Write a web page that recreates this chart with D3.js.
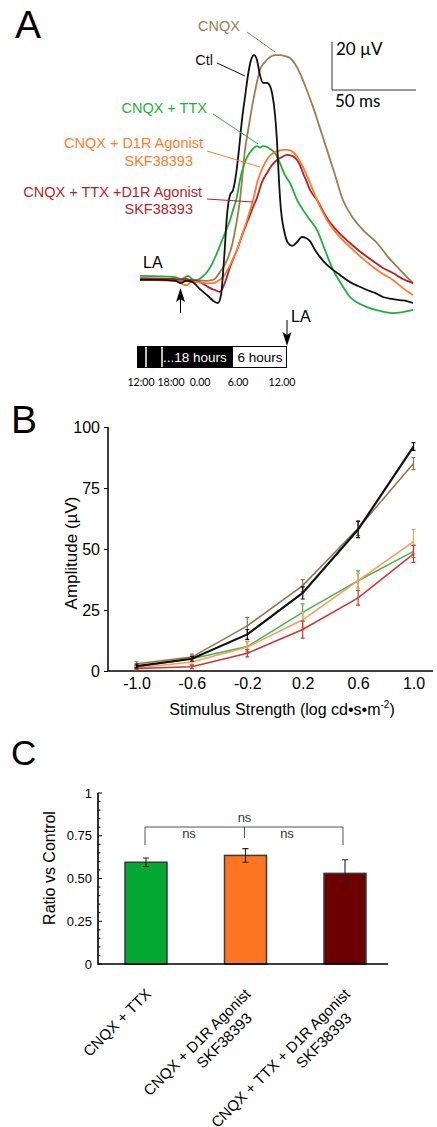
<!DOCTYPE html>
<html><head><meta charset="utf-8">
<script src="https://cdn.jsdelivr.net/npm/d3@7"></script>
<style>
body{margin:0;background:#fff}
svg{display:block}
text{font-family:"Liberation Sans",Arial,Helvetica,sans-serif}
</style>
</head><body>
<svg id="fig" width="437" height="1127"></svg>
<script>
// ---------------- Panel A: ERG traces  [time (ms), amplitude (µV)] ----------------
const traceCtl = [[0,-0.4],[12,-0.4],[21,-0.8],[24.4,-1.7],[27.4,-0.8],[31,-1.2],[35.7,-4.2],[40.5,-7.1],[44.6,-9.6],[46.4,-10],[48.2,-6.7],[50,7.9],[51.8,26.7],[53.6,35],[55.4,37.1],[57.1,43.3],[58.9,53.8],[60.7,66.3],[62.5,75.8],[64.3,85],[66.1,91.3],[67.9,93.3],[69.6,91.3],[71.4,85],[73.2,81.7],[75.6,81.7],[77.4,80.4],[78.6,77.5],[80.4,68.3],[81.5,57.9],[82.7,41.3],[83.9,28.8],[85.7,20.4],[88.1,15],[90.5,13.8],[93.5,15.4],[96.4,17.5],[98.8,17.1],[101.2,15.8],[104.2,12.1],[107.1,9.2],[110.7,6.3],[114.9,3.8],[119,1.7],[125,-1.3],[129.8,-2.9],[135.1,-4.6],[139.9,-5.8],[144.6,-7.5],[150,-8.3],[154.8,-8.8],[158.9,-9.2],[162.5,-10]];
const traceCNQX = [[0,0],[20.8,-0.4],[24.4,-1.3],[27.4,-0.4],[32.7,-0.4],[38.7,-0.8],[43.5,-0.4],[47.6,2.9],[51.8,7.9],[54.8,14.2],[57.7,24.6],[59.5,32.9],[62.5,53.8],[64.9,64.2],[66.7,71.7],[69,80],[71.4,87.1],[74.4,90.4],[77.4,92.5],[80.4,93.3],[83.3,93.3],[86.3,92.9],[89.3,92.1],[92.3,89.6],[95.2,85.8],[98.8,79.6],[103,71.7],[107.1,62.9],[111.3,53.8],[116.1,43.3],[120.8,32.9],[126.8,25.4],[133.9,19.6],[141.1,15],[147.6,9.2],[154.8,3.8],[158.9,0.8],[162.5,-1.7]];
const traceCNQXTTX = [[0,1.3],[20.8,0.8],[24.4,0],[26.2,0.4],[28.6,1.3],[31,0],[33.9,-0.4],[36.9,0.8],[39.9,2.9],[42.9,6.3],[45.8,10.8],[49.4,17.1],[53.6,24.6],[55.4,28.8],[57.7,34.2],[59.5,41.3],[61.9,47.5],[63.7,50.8],[66.7,53.8],[69.6,55.4],[71.4,54.8],[73.2,55.4],[75.6,55],[77.4,54.2],[80.4,52.5],[83.3,48.3],[86.3,43.3],[89.3,40],[93.5,32.9],[97,28.8],[101.2,24.6],[105.4,20.4],[110.1,12.1],[114.9,3.8],[120.2,-2.5],[125,-7.5],[129.8,-10],[135.1,-11.7],[142.9,-13.3],[150.6,-14.2],[156.5,-13.8],[162.5,-12.9]];
const traceCNQXD1R = [[0,-0.4],[20.8,-0.8],[24.4,-1.7],[26.2,-2.5],[28,-2.5],[30.4,-1.3],[33.9,-1.3],[38.7,-1.7],[43.5,-1.7],[46.4,-0.8],[49.4,0.8],[53.6,5.8],[57.7,12.1],[60.7,18.3],[63.7,24.6],[67.3,32.9],[70.2,41.3],[73.2,46.7],[76.2,50.4],[79.2,52.5],[82.1,53.3],[85.1,53.8],[88.1,53.8],[91.1,52.9],[94,50.4],[97,46.7],[101.2,40],[105.4,32.9],[111.3,24.6],[117.9,18.3],[125,13.3],[132.1,8.8],[138.7,5],[144.6,2.1],[150.6,-0.4],[156.5,-3.8],[162.5,-6.7]];
const traceAll = [[0,0.4],[20.8,0],[24.4,-0.4],[27.4,0],[29.8,-0.4],[33.3,-0.8],[35.7,-1.3],[38.7,-2.5],[41.7,-3.8],[44.6,-4.6],[47.6,-5.4],[50,-2.5],[53.6,5],[57.7,12.1],[61.3,19.2],[64.3,24.6],[67.3,30],[69.6,33.8],[72.6,40.4],[75.6,44.2],[78.6,47.5],[81.5,49.6],[84.5,50.8],[87.5,51.7],[90.5,51.3],[93.5,49.6],[95.2,47.5],[97,44.2],[98.8,41.3],[101.2,37.1],[105.4,32.9],[111.3,25.4],[117.9,19.6],[125,15],[132.1,10.8],[138.7,7.5],[144.6,4.6],[150.6,2.5],[156.5,0],[162.5,-1.7]];

// ---------------- Panel B: intensity-response ----------------
const stimulus = [-1.0, -0.6, -0.2, 0.2, 0.6, 1.0];
const stimulusTickLabels = ["-1.0", "-0.6", "-0.2", "0.2", "0.6", "1.0"];
const ampTicks = [0, 25, 50, 75, 100];
const ampCtl       = [2.0, 5.0, 15.0, 32.0, 58.0, 92.0];
const errCtl       = [0.8, 1.0, 2.0, 2.5, 3.3, 1.6];
const ampCNQX      = [3.0, 5.7, 18.5, 35.0, 58.5, 85.0];
const errCNQX      = [0.8, 1.2, 3.5, 2.5, 3.0, 2.5];
const ampCNQXTTX   = [1.7, 5.0, 10.0, 24.0, 37.0, 49.0];
const errCNQXTTX   = [0.5, 1.0, 2.0, 3.5, 4.0, 2.5];
const ampCNQXD1R   = [1.2, 3.7, 9.8, 21.0, 37.0, 53.0];
const errCNQXD1R   = [0.5, 1.0, 2.5, 3.0, 3.0, 5.0];
const ampAll       = [1.0, 1.7, 7.3, 17.0, 30.0, 48.0];
const errAll       = [0.5, 0.7, 1.5, 3.5, 3.0, 3.5];

// ---------------- Panel C: ratio vs control ----------------
const ratioCategories = [["CNQX + TTX"], ["CNQX + D1R Agonist", "SKF38393"], ["CNQX + TTX + D1R Agonist", "SKF38393"]];
const ratioValues = [0.595, 0.635, 0.53];
const ratioErrors = [0.025, 0.04, 0.08];
const ratioTicks = [0, 0.25, 0.5, 0.75, 1];
const ratioTickLabels = ["0", "0.25", "0.50", "0.75", "1"];

// ---------------- Panel A timeline ----------------
const clockHours = [0, 6, 12, 18, 24];
const clockLabels = ["12:00", "18:00", "0.00", "6.00", "12.00"];

const svg = d3.select("#fig");

// panel letters
svg.append("text").attr("x", 15).attr("y", 38).attr("font-size", 39).text("A");
svg.append("text").attr("x", 11).attr("y", 433).attr("font-size", 39).text("B");
svg.append("text").attr("x", 11).attr("y", 765).attr("font-size", 35).text("C");

// ================= Panel A =================
const colA = {ctl:"#111111", cnqx:"#a27b4c", ttx:"#1fae3c", d1r:"#ff7b2c", all:"#b51f26"};
const xA = d3.scaleLinear().domain([0, 162.5]).range([140, 413]);
const yA = d3.scaleLinear().domain([0, 20]).range([279, 231]);
const lineA = d3.line().x(d => xA(d[0])).y(d => yA(d[1])).curve(d3.curveMonotoneX);
const gA = svg.append("g");
[[traceCNQX, colA.cnqx], [traceCNQXTTX, colA.ttx], [traceAll, colA.all], [traceCNQXD1R, colA.d1r], [traceCtl, colA.ctl]]
  .forEach(([d, c]) => gA.append("path").datum(d).attr("d", lineA)
    .attr("fill", "none").attr("stroke", c).attr("stroke-width", 1.8).attr("stroke-linejoin", "round"));

// scale bar
const sbX = 332, sbY = 90;
gA.append("path")
  .attr("d", `M${sbX},${sbY - (yA(0) - yA(20))}V${sbY}H${sbX + xA(50) - xA(0)}`)
  .attr("fill", "none").attr("stroke", "#333").attr("stroke-width", 1);
gA.append("text").attr("x", 336).attr("y", 55).attr("font-size", 17).attr("font-family", "Lato, 'Open Sans', sans-serif").style("font-family", "Lato, 'Open Sans', sans-serif").text("20 µV");
gA.append("text").attr("x", 335).attr("y", 107).attr("font-size", 17).style("font-family", "Lato, 'Open Sans', sans-serif").text("50 ms");

// labels with leader lines
function label(lines, color, leader) {
  lines.forEach(l => gA.append("text").attr("x", l[0]).attr("y", l[1]).attr("text-anchor", l[3] || "end")
    .attr("font-size", 14.5).attr("fill", color).text(l[2]));
  gA.append("line").attr("x1", leader[0]).attr("y1", leader[1]).attr("x2", leader[2]).attr("y2", leader[3])
    .attr("stroke", color).attr("stroke-width", 1);
}
label([[198, 31, "CNQX", "start"]], colA.cnqx, [247, 32, 275, 52]);
label([[213, 65, "Ctl"]], colA.ctl, [217, 63, 245, 76]);
label([[207, 113, "CNQX + TTX"]], colA.ttx, [213, 114, 258, 144]);
label([[203, 148, "CNQX + D1R Agonist"], [193, 166, "SKF38393"]], colA.d1r, [207, 151, 260, 167]);
label([[202, 197, "CNQX + TTX +D1R Agonist"], [193, 214, "SKF38393"]], colA.all, [207, 199, 253, 202]);

// LA labels and arrows
gA.append("text").attr("x", 143).attr("y", 268).attr("font-size", 16).text("LA");
gA.append("text").attr("x", 291).attr("y", 322).attr("font-size", 16).text("LA");
gA.append("line").attr("x1", 180.5).attr("x2", 180.5).attr("y1", 298).attr("y2", 313).attr("stroke", "#000").attr("stroke-width", 1);
gA.append("path").attr("d", "M180.5,288L185,302L180.5,299L176,302Z").attr("fill", "#000");
gA.append("line").attr("x1", 287).attr("x2", 287).attr("y1", 320).attr("y2", 336).attr("stroke", "#000").attr("stroke-width", 1);
gA.append("path").attr("d", "M287,346L291.5,332L287,335L282.5,332Z").attr("fill", "#000");

// timeline box
const tl = {x0: 137, x1: 287, y0: 346, y1: 368, dark: 233};
gA.append("rect").attr("x", tl.x0).attr("y", tl.y0).attr("width", tl.dark - tl.x0).attr("height", tl.y1 - tl.y0).attr("fill", "#000");
gA.append("rect").attr("x", tl.x0 + 0.5).attr("y", tl.y0 + 0.5).attr("width", tl.x1 - tl.x0 - 1).attr("height", tl.y1 - tl.y0 - 1).attr("fill", "none").attr("stroke", "#000");
[146, 162].forEach(x => gA.append("line").attr("x1", x).attr("x2", x).attr("y1", tl.y0 + 1).attr("y2", tl.y1 - 1).attr("stroke", "#fff").attr("stroke-width", 1.5));
gA.append("text").attr("x", 163).attr("y", 362).attr("font-size", 13.5).attr("fill", "#fff").text("...18 hours");
gA.append("text").attr("x", 260).attr("y", 362).attr("text-anchor", "middle").attr("font-size", 13.5).text("6 hours");
const xClock = d3.scaleLinear().domain(clockHours).range([141, 171, 200, 238, 282]);
clockHours.forEach((h, i) => gA.append("text").attr("x", xClock(h)).attr("y", 386).attr("text-anchor", "middle")
  .attr("font-size", 10.5).style("font-family", "Lato, 'Open Sans', sans-serif").text(clockLabels[i]));

// ================= Panel B =================
const xB = d3.scaleLinear().domain([-1, 1]).range([136.5, 413.5]);
const yB = d3.scaleLinear().domain([0, 100]).range([671, 427]);
const gB = svg.append("g");
const axisColor = "#000";
gB.append("path").attr("d", `M108,${yB(100)}V${yB(0)}H433`).attr("fill", "none").attr("stroke", axisColor).attr("stroke-width", 1.5);
const yAxisB = gB.append("g").attr("transform", "translate(108,0)")
  .call(d3.axisLeft(yB).tickValues(ampTicks).tickSize(4).tickPadding(4));
yAxisB.select(".domain").remove();
yAxisB.selectAll("text").attr("font-size", 16).attr("fill", "#000").style("font-family", "'Liberation Sans', Arial, sans-serif");
yAxisB.selectAll("line").attr("stroke", "#000");
const xAxisB = gB.append("g").attr("transform", "translate(0,671)")
  .call(d3.axisBottom(xB).tickValues(stimulus).tickSize(0).tickPadding(7).tickFormat((d, i) => stimulusTickLabels[i]));
xAxisB.select(".domain").remove();
xAxisB.selectAll("text").attr("font-size", 16).attr("fill", "#000").attr("dy", "0.71em").style("font-family", "'Liberation Sans', Arial, sans-serif");

gB.append("text").attr("transform", "translate(77,553) rotate(-90)").attr("text-anchor", "middle").attr("font-size", 17).text("Amplitude (µV)");
const xl = gB.append("text").attr("x", 282).attr("y", 715).attr("text-anchor", "middle").attr("font-size", 16);
xl.append("tspan").text("Stimulus Strength (log cd•s•m");
xl.append("tspan").attr("font-size", 10).attr("dy", -7).text("-2");
xl.append("tspan").attr("dy", 7).text(")");

const seriesB = [
  {v: ampCNQX, e: errCNQX, c: "#8f7645", w: 1.5},
  {v: ampCNQXTTX, e: errCNQXTTX, c: "#43b452", w: 1.5},
  {v: ampCNQXD1R, e: errCNQXD1R, c: "#ff9a55", w: 1.5},
  {v: ampAll, e: errAll, c: "#cc3535", w: 1.5},
  {v: ampCtl, e: errCtl, c: "#111111", w: 2.2}
];
const lineB = d3.line().x(d => xB(d.x)).y(d => yB(d.y));
seriesB.forEach(s => {
  const pts = stimulus.map((x, i) => ({x, y: s.v[i], e: s.e[i]}));
  gB.append("path").datum(pts).attr("d", lineB).attr("fill", "none").attr("stroke", s.c).attr("stroke-width", s.w);
  const eb = gB.append("g").attr("stroke", s.c).attr("stroke-width", 1.2);
  pts.forEach(p => {
    const x = xB(p.x), y1 = yB(p.y + p.e), y2 = yB(p.y - p.e);
    eb.append("path").attr("d", `M${x},${y1}V${y2}M${x - 2},${y1}H${x + 2}M${x - 2},${y2}H${x + 2}`).attr("fill", "none");
  });
});

// ================= Panel C =================
const yC = d3.scaleLinear().domain([0, 1]).range([964, 793]);
const xC = d3.scalePoint().domain(d3.range(ratioValues.length)).range([146, 345]);
const barW = 42;
const barColors = ["#03a933", "#ff7420", "#6c0000"];
const gC = svg.append("g");
// bars
ratioValues.forEach((v, i) => {
  gC.append("rect").attr("x", xC(i) - barW / 2).attr("y", yC(v)).attr("width", barW).attr("height", yC(0) - yC(v))
    .attr("fill", barColors[i]).attr("stroke", "#3a3a3a").attr("stroke-width", 1.5);
  const x = xC(i), y1 = yC(v + ratioErrors[i]), y2 = yC(v - ratioErrors[i]);
  gC.append("path").attr("d", `M${x},${y1}V${y2}M${x - 3},${y1}H${x + 3}M${x - 3},${y2}H${x + 3}`)
    .attr("fill", "none").attr("stroke", "#222").attr("stroke-width", 1.1);
});
// axes
gC.append("path").attr("d", `M98,${yC(1)}V${yC(0)}H388`).attr("fill", "none").attr("stroke", "#000").attr("stroke-width", 1.6);
d3.range(0, 1.0001, 0.05).forEach(t => {
  const major = ratioTicks.some(m => Math.abs(m - t) < 1e-6);
  gC.append("line").attr("x1", 98).attr("x2", 98 + (major ? 4 : 2.5)).attr("y1", yC(t)).attr("y2", yC(t))
    .attr("stroke", "#000").attr("stroke-width", 1);
});
ratioTicks.forEach((t, i) => gC.append("text").attr("x", 92).attr("y", yC(t)).attr("dy", "0.35em")
  .attr("text-anchor", "end").attr("font-size", 13).text(ratioTickLabels[i]));
gC.append("text").attr("transform", "translate(55,868) rotate(-90)").attr("text-anchor", "middle").attr("font-size", 16).text("Ratio vs Control");

// significance brackets
const brY = 827;
gC.append("path").attr("d", `M${xC(0) - 1},845V${brY}H${xC(2) - 2}V845M${xC(1) - 1},${brY}V838`)
  .attr("fill", "none").attr("stroke", "#555").attr("stroke-width", 1);
gC.append("text").attr("x", xC(1) - 1).attr("y", 822).attr("text-anchor", "middle").attr("font-size", 13).attr("fill", "#333").text("ns");
gC.append("text").attr("x", 189).attr("y", 838).attr("text-anchor", "middle").attr("font-size", 13).attr("fill", "#333").text("ns");
gC.append("text").attr("x", 287).attr("y", 838).attr("text-anchor", "middle").attr("font-size", 13).attr("fill", "#333").text("ns");

// rotated category labels
ratioCategories.forEach((lines, i) => {
  const g = gC.append("g").attr("transform", `translate(${xC(i) + 6},995) rotate(-45)`);
  lines.forEach((l, j) => g.append("text").attr("x", j === 0 ? 0 : -16).attr("y", j * 18)
    .attr("text-anchor", "end").attr("font-size", 15).text(l));
});
</script>
</body></html>
